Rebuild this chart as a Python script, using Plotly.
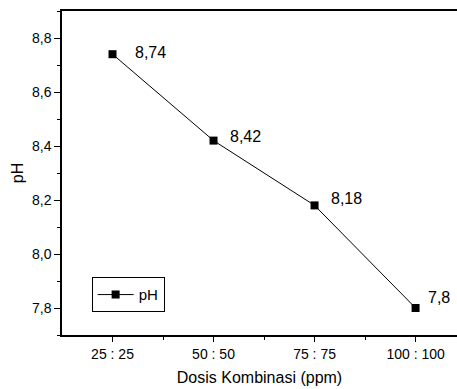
import plotly.graph_objects as go

categories = ["25 : 25", "50 : 50", "75 : 75", "100 : 100"]
ph_values = [8.74, 8.42, 8.18, 7.8]
value_labels = ["8,74", "8,42", "8,18", "7,8"]
y_ticks = [7.8, 8.0, 8.2, 8.4, 8.6, 8.8]

# label offsets (pixels) relative to each marker
label_dx = [20, 14, 14, 10]
label_dy = [2, 4, 7, 11]

xpos = list(range(1, len(categories) + 1))
font = "Liberation Sans, Arial, sans-serif"

fig = go.Figure()
fig.add_trace(go.Scatter(
    x=xpos, y=ph_values, mode="lines+markers", name="pH",
    line=dict(color="black", width=1),
    marker=dict(symbol="square", size=8, color="black"),
))

for x, y, t, dx, dy in zip(xpos, ph_values, value_labels, label_dx, label_dy):
    fig.add_annotation(x=x, y=y, text=t, showarrow=False, xanchor="left",
                       xshift=dx, yshift=dy, font=dict(family=font, size=16, color="black"))

fig.update_layout(
    width=457, height=389,
    margin=dict(l=62, r=0, t=11, b=54, autoexpand=False),
    paper_bgcolor="white", plot_bgcolor="white",
    separators=",.",
    font=dict(family=font, size=13, color="black"),
    showlegend=True,
    legend=dict(x=0.075, y=0.07, xanchor="left", yanchor="bottom",
                bordercolor="black", borderwidth=1, bgcolor="white",
                font=dict(family=font, size=15), itemwidth=36,
                tracegroupgap=0),
    xaxis=dict(
        range=[0.5, 4.41], tickvals=xpos, ticktext=categories,
        showline=True, linecolor="black", linewidth=1.5, mirror=True,
        ticks="outside", ticklen=5, tickcolor="black",
        minor=dict(tickvals=[1.5, 2.5, 3.5], ticks="outside", ticklen=3, tickcolor="black"),
        showgrid=False, zeroline=False,
        tickfont=dict(family=font, size=14),
        title=dict(text="Dosis Kombinasi (ppm)", font=dict(family=font, size=16), standoff=11),
    ),
    yaxis=dict(
        range=[7.7, 8.9], tickvals=y_ticks, tickformat=".1f",
        showline=True, linecolor="black", linewidth=1.5,
        ticks="outside", ticklen=6, tickcolor="black",
        minor=dict(dtick=0.1, ticks="outside", ticklen=3, tickcolor="black"),
        showgrid=False, zeroline=False,
        tickfont=dict(family=font, size=14),
        title=dict(text="pH", font=dict(family=font, size=16), standoff=4),
    ),
)

fig.write_html(
    "out.html",
    config={"displayModeBar": False},
    post_script="document.body.style.margin='0';document.body.style.overflow='hidden';",
)
